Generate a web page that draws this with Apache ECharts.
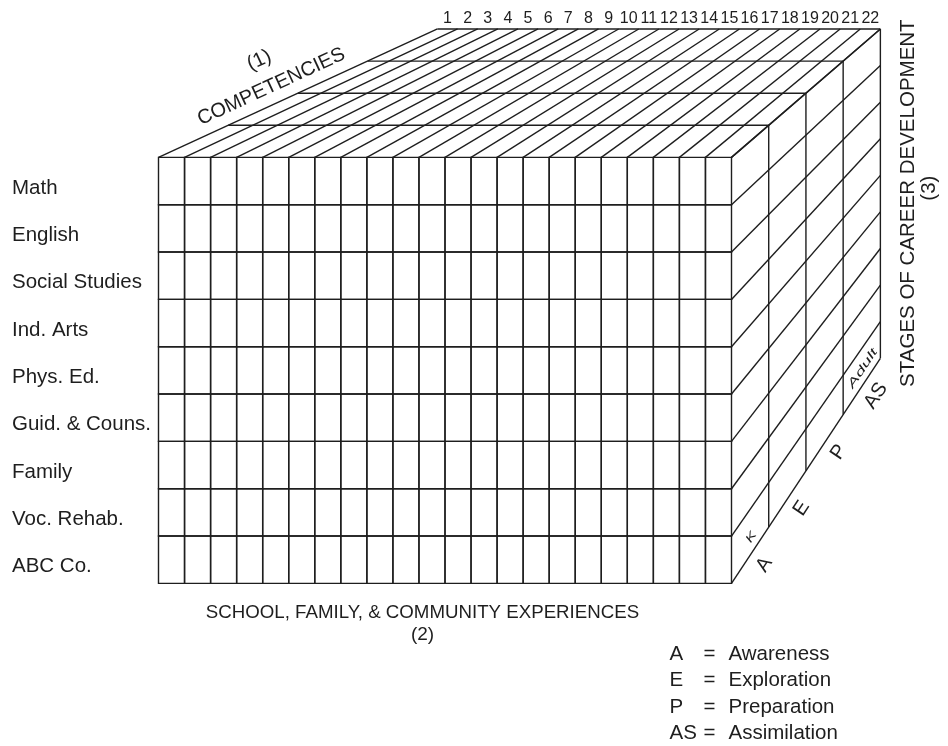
<!DOCTYPE html>
<html><head><meta charset="utf-8">
<script src="https://cdn.jsdelivr.net/npm/echarts@6/dist/echarts.min.js"></script>
<style>html,body{margin:0;padding:0;background:#fff}#c{width:948px;height:746px}</style>
</head><body><div id="c"></div>
<script>
// ---- data ----
const experiences = ['Math','English','Social Studies','Ind. Arts','Phys. Ed.','Guid. & Couns.','Family','Voc. Rehab.','ABC Co.'];
const competencies = ['1','2','3','4','5','6','7','8','9','10','11','12','13','14','15','16','17','18','19','20','21','22'];
const stageAbbr = ['A','E','P','AS'];
const stageNames = ['Awareness','Exploration','Preparation','Assimilation'];
const stageNotes = ['K','','','Adult'];
const titleCompetencies = ['(1)','COMPETENCIES'];
const titleExperiences = ['SCHOOL, FAMILY, & COMMUNITY EXPERIENCES','(2)'];
const titleStages = ['STAGES OF CAREER DEVELOPMENT','(3)'];

// ---- geometry / style ----
const NC = competencies.length, NR = experiences.length, ND = stageAbbr.length;
const BACK_S = 0.773, BACK_DX = 10.71, BACK_DY = -2.713;
const INK = '#1e1e1e', LW = 1.4, FONT = '"Liberation Sans", Arial, sans-serif';

function P(api, c, r, d) {
  const t = d / ND;
  const x = c + t * (BACK_DX + BACK_S * c - c);
  const y = r + t * (BACK_DY + BACK_S * r - r);
  return api.coord([x, y]);
}
function line(a, b) {
  return {type:'line', shape:{x1:a[0],y1:a[1],x2:b[0],y2:b[1]}, style:{stroke:INK, lineWidth:LW, fill:null}};
}
function text(str, x, y, opt) {
  opt = opt || {};
  return {type:'text', x:x, y:y, rotation:opt.rot||0, scaleX:opt.sx||1,
    style:{text:str, fill:INK, fontSize:opt.size||20.5, fontFamily:FONT, fontStyle:opt.italic?'italic':'normal',
      align:opt.align||'center', verticalAlign:'middle'}};
}

const cells = [];
experiences.forEach((e, r) => competencies.forEach((c, k) => cells.push([k, r])));

const chart = echarts.init(document.getElementById('c'), null, {renderer:'canvas'});
chart.setOption({
  backgroundColor:'#fff',
  animation:false,
  grid:{left:158.5, top:157.4, width:573, height:426},
  xAxis:{type:'value', min:0, max:NC, show:false},
  yAxis:{type:'value', min:0, max:NR, inverse:true, show:false},
  series:[
    {
      type:'custom', clip:false, silent:true, data:cells,
      renderItem:function(params, api){
        const c = api.value(0), r = api.value(1);
        const a = api.coord([c, r]), b = api.coord([c+1, r+1]);
        return {type:'rect', shape:{x:a[0], y:a[1], width:b[0]-a[0], height:b[1]-a[1]},
          style:{fill:'none', stroke:INK, lineWidth:LW}};
      }
    },
    {
      type:'custom', clip:false, silent:true, data:[0],
      renderItem:function(params, api){
        const ch = [];
        // top face
        for (let c = 0; c <= NC; c++) ch.push(line(P(api,c,0,0), P(api,c,0,ND)));
        for (let d = 1; d <= ND; d++) ch.push(line(P(api,0,0,d), P(api,NC,0,d)));
        // right face
        for (let r = 0; r <= NR; r++) ch.push(line(P(api,NC,r,0), P(api,NC,r,ND)));
        for (let d = 1; d <= ND; d++) ch.push(line(P(api,NC,0,d), P(api,NC,NR,d)));
        // competency numbers
        competencies.forEach((s, i) => {
          const p = P(api, i+0.5, 0, ND);
          ch.push(text(s, p[0], p[1]-10, {size:16}));
        });
        // row labels
        experiences.forEach((s, r) => {
          const p = P(api, 0, r+0.5, 0);
          ch.push(text(s, p[0]-146.5, p[1]+7, {align:'left'}));
        });
        // stage labels along bottom edge of right face
        const b0 = P(api,NC,NR,0), b1 = P(api,NC,NR,ND);
        let ux = b1[0]-b0[0], uy = b1[1]-b0[1]; const ul = Math.hypot(ux,uy); ux/=ul; uy/=ul;
        const rotS = Math.atan2(-uy, ux);
        stageAbbr.forEach((s, i) => {
          const p = P(api, NC, NR, i+0.5);
          ch.push(text(s, p[0] + 17*(-uy), p[1] + 17*ux, {rot:rotS, size:20}));
          if (stageNotes[i]) ch.push(text(stageNotes[i], p[0]+1, p[1]-18, {rot:rotS, size:11, italic:true, sx:stageNotes[i].length>1?1.8:1.5}));
        });
        // competencies title along top-left edge
        const l0 = P(api,0,0,0), l1 = P(api,0,0,ND);
        let vx = l1[0]-l0[0], vy = l1[1]-l0[1]; const vl = Math.hypot(vx,vy); vx/=vl; vy/=vl;
        const rotC = Math.atan2(-vy, vx);
        const q = P(api, 0, 0, 1.72);
        ch.push(text(titleCompetencies[1], q[0] + 17*vy, q[1] - 17*vx, {rot:rotC, size:20}));
        ch.push(text(titleCompetencies[0], q[0] + 46*vy, q[1] - 46*vx, {rot:rotC, size:20}));
        // bottom title
        const m = P(api, NC/2, NR, 0);
        ch.push(text(titleExperiences[0], m[0]-22.5, m[1]+29.5, {size:18.7}));
        ch.push(text(titleExperiences[1], m[0]-22.5, m[1]+51, {size:19}));
        // stages title (vertical)
        const s0 = P(api, NC, 0, ND), s1 = P(api, NC, NR, ND);
        const sy = (s0[1]+s1[1])/2;
        ch.push(text(titleStages[0], s0[0]+28, sy+9.5, {rot:Math.PI/2}));
        ch.push(text(titleStages[1], s0[0]+49, sy-5.5, {rot:Math.PI/2}));
        // legend
        const g = P(api, NC, NR, 0);
        stageAbbr.forEach((s, i) => {
          const y = g[1] + 70.5 + i*26.6;
          ch.push(text(s, g[0]-62, y, {align:'left'}));
          ch.push(text('=', g[0]-28, y, {align:'left'}));
          ch.push(text(stageNames[i], g[0]-3, y, {align:'left'}));
        });
        return {type:'group', children:ch};
      }
    }
  ]
});
</script></body></html>
